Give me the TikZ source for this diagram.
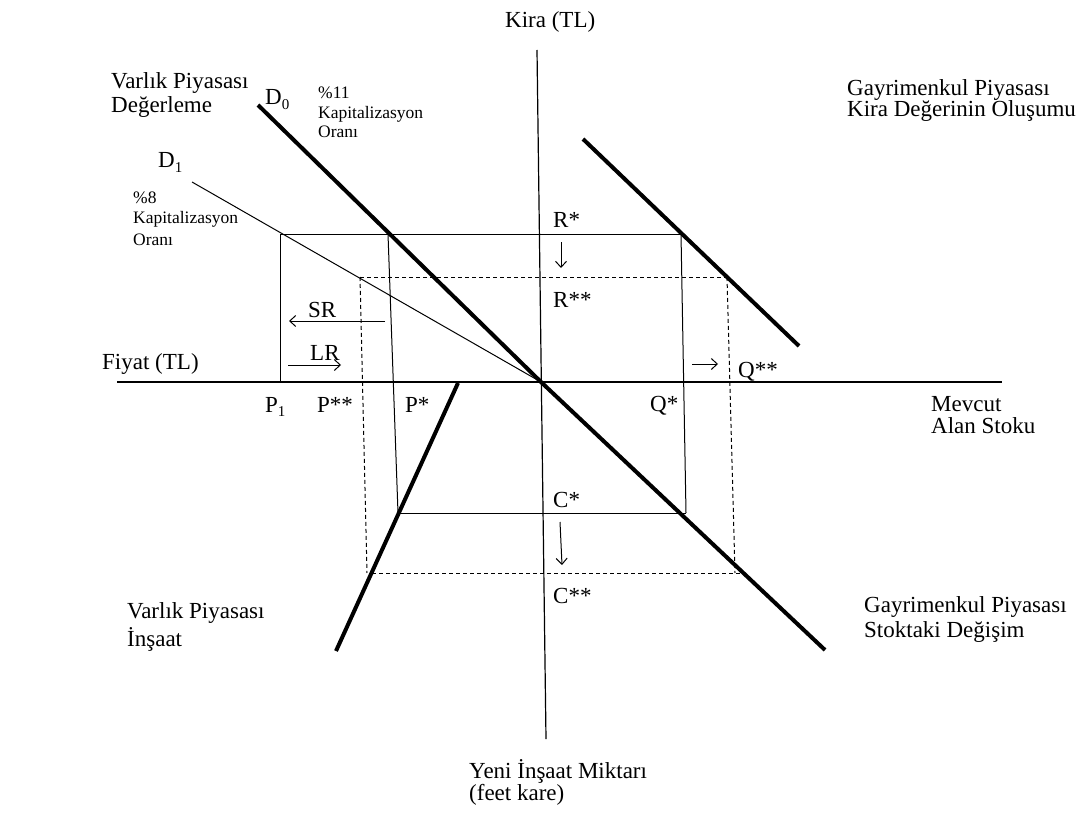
\documentclass[tikz,border=0pt]{standalone}
\usepackage{fontspec}
\setmainfont{Liberation Serif}
\usetikzlibrary{arrows.meta}
\newcommand{\lowsub}[1]{\raisebox{-4.5pt}{\fontsize{15}{15}\selectfont #1}}
\begin{document}
\begin{tikzpicture}[x=1pt, y=-1pt,
	thinline/.style={line width=1pt},
	heavy/.style={line width=4pt},
	dashline/.style={line width=1pt, dash pattern=on 4pt off 3pt},
	shiftarrow/.style={line width=1pt, -{Straight Barb[length=6pt,width=11pt]}},
	lbl/.style={font=\fontsize{23}{24}\selectfont, inner sep=0pt, anchor=base west, align=left},
	note/.style={font=\fontsize{17.5}{20}\selectfont, inner sep=0pt, anchor=base west, align=left}]
	\useasboundingbox (0,0) rectangle (1084,813);
	\coordinate (kiraTop) at (537,50); \coordinate (kiraBot) at (546,739);
	\coordinate (fiyatL) at (117,382); \coordinate (fiyatR) at (1002,382);
	\coordinate (O) at (541,382);
	\coordinate (dzeroA) at (258,105); \coordinate (dzeroB) at (825,650);
	\coordinate (doneA) at (192,182);
	\coordinate (rentA) at (583,139); \coordinate (rentB) at (799,346);
	\coordinate (insA) at (458,383); \coordinate (insB) at (336,651);
	\coordinate (a1) at (280,234); \coordinate (a2) at (388,234); \coordinate (a3) at (681,234);
	\coordinate (p1) at (280,382);
	\coordinate (b1) at (398,513); \coordinate (b2) at (686,513);
	\coordinate (c1) at (360,277); \coordinate (c2) at (727,277);
	\coordinate (c3) at (367,573); \coordinate (c4) at (735,573);
	\coordinate (c5) at (372,573); \coordinate (c6) at (741,573);
	\draw[line width=1.2pt] (kiraTop) -- (kiraBot);
	\draw[line width=1.2pt] (fiyatL) -- (fiyatR);
	\draw[thinline] (a1) -- (a3); \draw[thinline] (a1) -- (p1);
	\draw[thinline] (a2) -- (b1); \draw[thinline] (a3) -- (b2); \draw[thinline] (b1) -- (b2);
	\draw[dashline] (c1) -- (c2); \draw[dashline] (c1) -- (c3);
	\draw[dashline] (c2) -- (c4); \draw[dashline] (c5) -- (c6);
	\draw[thinline] (doneA) -- (O);
	\draw[heavy] (dzeroA) -- (O) -- (dzeroB);
	\draw[heavy] (rentA) -- (rentB);
	\draw[heavy] (insA) -- (insB);
	\draw[shiftarrow] (561,242) -- (561,268);
	\draw[shiftarrow] (385,321) -- (289,321);
	\draw[shiftarrow] (288,365) -- (341,365);
	\draw[shiftarrow] (692,364) -- (718,364);
	\draw[shiftarrow] (560,522) -- (562,565);
	\node[lbl] (kira) at (505,28) {Kira (TL)};
	\node[lbl] (degerleme) at (111,113) {Varlık Piyasası\\Değerleme};
	\node[lbl] (dzero) at (265,105) {D\lowsub{0}};
	\node[note, font=\fontsize{17.5}{19.5}\selectfont] (kap11) at (318,138) {\%11\\Kapitalizasyon\\Oranı};
	\node[lbl] (done) at (158,168) {D\lowsub{1}};
	\node[note, font=\fontsize{17.5}{21}\selectfont] (kap8) at (133,245) {\%8\\Kapitalizasyon\\Oranı};
	\node[lbl, font=\fontsize{23}{21}\selectfont] (kiradeg) at (847,117) {Gayrimenkul Piyasası\\Kira Değerinin Oluşumu};
	\node[lbl] (rstar) at (553,228) {R*};
	\node[lbl] (rstar2) at (553,307) {R**};
	\node[lbl] (sr) at (308,317) {SR};
	\node[lbl] (lr) at (310,360) {LR};
	\node[lbl] (fiyat) at (102,369) {Fiyat (TL)};
	\node[lbl] (pone) at (265,412) {P\lowsub{1}};
	\node[lbl] (pstar2) at (317,412) {P**};
	\node[lbl] (pstar) at (405,412) {P*};
	\node[lbl] (qstar) at (650,411) {Q*};
	\node[lbl] (qstar2) at (738,377) {Q**};
	\node[lbl, font=\fontsize{23}{22}\selectfont] (stok) at (931,433) {Mevcut\\Alan Stoku};
	\node[lbl] (cstar) at (553,507) {C*};
	\node[lbl] (cstar2) at (553,603) {C**};
	\node[lbl, font=\fontsize{23}{28}\selectfont] (insaat) at (127,646) {Varlık Piyasası\\İnşaat};
	\node[lbl, font=\fontsize{23}{25}\selectfont] (stokdeg) at (864,637) {Gayrimenkul Piyasası\\Stoktaki Değişim};
	\node[lbl, font=\fontsize{23}{22}\selectfont] (miktar) at (469,800) {Yeni İnşaat Miktarı\\(feet kare)};
\end{tikzpicture}
\end{document}
